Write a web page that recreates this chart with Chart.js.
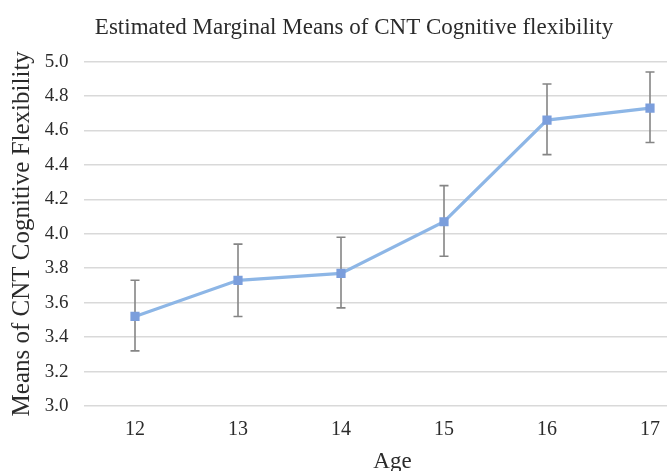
<!DOCTYPE html>
<html>
<head>
<meta charset="utf-8">
<script src="https://cdn.jsdelivr.net/npm/chart.js@4/dist/chart.umd.min.js"></script>
<style>
  html, body { margin: 0; padding: 0; background: #fff; overflow: hidden; }
  #wrap { position: relative; width: 708px; height: 471px; }
</style>
</head>
<body>
<div id="wrap"><canvas id="c"></canvas></div>
<script>
// Age groups and estimated marginal means with their error bar limits
const ages = ['12', '13', '14', '15', '16', '17'];
const means = [3.52, 3.73, 3.77, 4.07, 4.66, 4.73];
const upper = [3.73, 3.94, 3.98, 4.28, 4.87, 4.94];
const lower = [3.32, 3.52, 3.57, 3.87, 4.46, 4.53];
const yTicks = [3.0, 3.2, 3.4, 3.6, 3.8, 4.0, 4.2, 4.4, 4.6, 4.8, 5.0];

const serif = '"Liberation Serif", "Times New Roman", serif';
const textColor = '#2b2b2b';

// Draws vertical error bars with caps beneath the line and markers
const errorBars = {
  id: 'errorBars',
  beforeDatasetsDraw(chart) {
    const { ctx, scales: { x, y } } = chart;
    ctx.save();
    ctx.strokeStyle = '#858585';
    ctx.lineWidth = 1.6;
    const cap = 4.5;
    ages.forEach((a, i) => {
      const px = x.getPixelForValue(i);
      const yt = y.getPixelForValue(upper[i]);
      const yb = y.getPixelForValue(lower[i]);
      ctx.beginPath();
      ctx.moveTo(px, yt); ctx.lineTo(px, yb);
      ctx.moveTo(px - cap, yt); ctx.lineTo(px + cap, yt);
      ctx.moveTo(px - cap, yb); ctx.lineTo(px + cap, yb);
      ctx.stroke();
    });
    ctx.restore();
  }
};

new Chart(document.getElementById('c'), {
  type: 'line',
  data: {
    labels: ages,
    datasets: [{
      data: means,
      borderColor: '#8db6e6',
      borderWidth: 3.2,
      pointStyle: 'rect',
      pointRadius: 6.5,
      pointBackgroundColor: '#7b9edc',
      pointBorderColor: '#7b9edc',
      pointBorderWidth: 0,
      tension: 0,
      fill: false
    }]
  },
  options: {
    responsive: true,
    maintainAspectRatio: false,
    animation: false,
    layout: { padding: 0 },
    plugins: {
      legend: { display: false },
      tooltip: { enabled: false },
      title: {
        display: true,
        text: 'Estimated Marginal Means of CNT Cognitive flexibility',
        color: textColor,
        font: { family: serif, size: 23, weight: 'normal', lineHeight: 1.2 },
        padding: { top: 14, bottom: 20 }
      }
    },
    scales: {
      x: {
        type: 'category',
        offset: true,
        grid: { display: false, drawTicks: false },
        border: { display: false },
        ticks: {
          color: textColor,
          font: { family: serif, size: 20, lineHeight: 1.2 },
          padding: 12
        },
        title: {
          display: true,
          text: 'Age',
          color: textColor,
          font: { family: serif, size: 23, lineHeight: 0.8 },
          padding: { top: 0, bottom: 0 }
        },
        afterFit(scale) { scale.height = 65; }
      },
      y: {
        min: 3.0,
        max: 5.0,
        afterBuildTicks(scale) { scale.ticks = yTicks.map(v => ({ value: v })); },
        grid: { color: '#d9d9d9', lineWidth: 1.6, drawTicks: false },
        border: { display: false },
        ticks: {
          color: textColor,
          font: { family: serif, size: 19 },
          padding: 15,
          callback: v => Number(v).toFixed(1)
        },
        title: {
          display: true,
          text: 'Means of CNT Cognitive Flexibility',
          color: textColor,
          font: { family: serif, size: 25, lineHeight: 1.2 },
          padding: { top: 7, bottom: 0 }
        },
        afterFit(scale) { scale.width = 83.5; }
      }
    }
  },
  plugins: [errorBars]
});
</script>
</body>
</html>
